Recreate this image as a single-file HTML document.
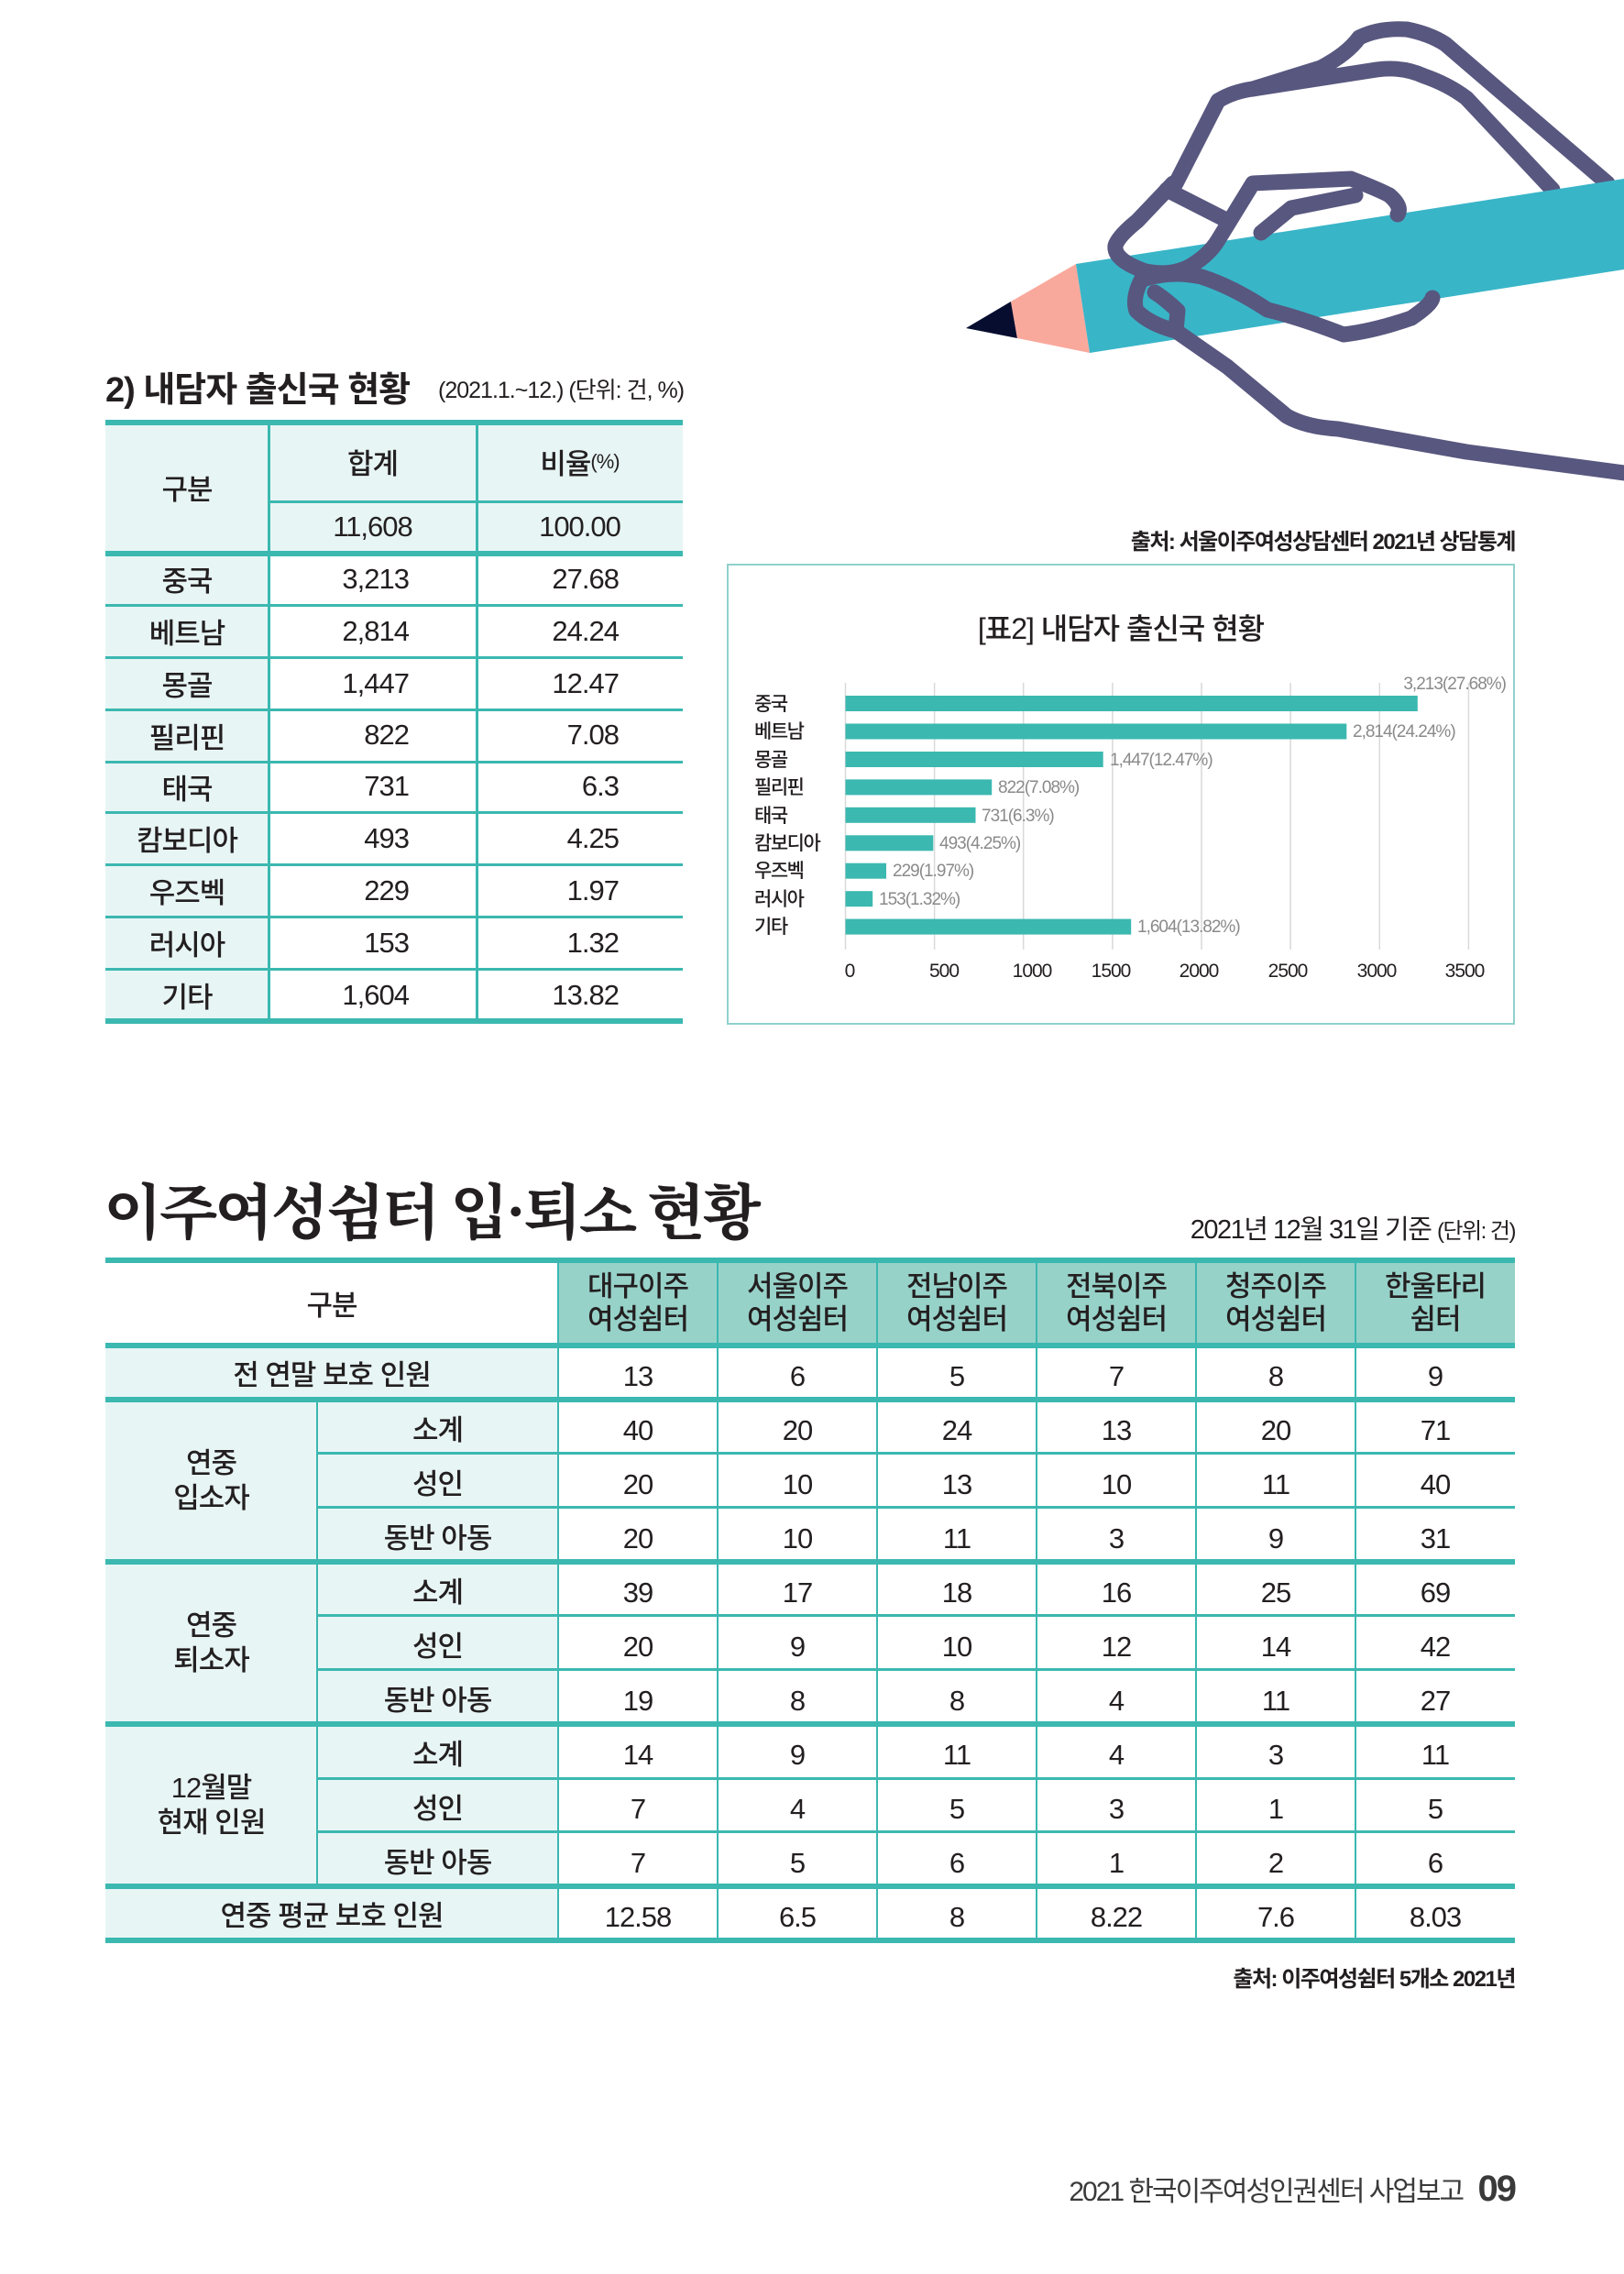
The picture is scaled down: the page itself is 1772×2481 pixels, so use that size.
<!DOCTYPE html>
<html><head><meta charset="utf-8">
<style>
*{margin:0;padding:0;box-sizing:border-box}
body{width:1772px;height:2481px;background:#fff;position:relative;overflow:hidden;font-family:"Liberation Sans","Noto Sans CJK KR",sans-serif;color:#231f20}
.a{position:absolute}
.c{position:absolute;display:flex;align-items:center;justify-content:center;text-align:center}
.hl{position:absolute;background:#3bb8b0}
.t1{font-size:31px;font-weight:500;letter-spacing:-1px}
.t2{font-size:31px;font-weight:500;letter-spacing:-1px}
</style></head><body>

<svg class="a" style="left:0;top:0" width="1772" height="2481" viewBox="0 0 1772 2481">
 <g fill="none" stroke="#58577f" stroke-width="17" stroke-linejoin="round" stroke-linecap="round">
  <path d="M1283,200 L1329,110 Q1345,100 1367,97 L1441,74 Q1470,59 1483,41 Q1505,30 1535,32 Q1560,37 1577,48 L1754,200"/>
  <path d="M1367,97 L1502,76 Q1530,72 1554,83 Q1580,92 1600,107 L1694,207"/>
  <path d="M1273,207 L1334,238"/>
 </g>
 <polygon points="1054,358 1103,329 1110,369" fill="#060d2e"/>
 <polygon points="1103,329 1174,288 1189,385 1110,369" fill="#f9a99c"/>
 <polygon points="1174,288 1772,195 1772,294 1189,385" fill="#39b5c8"/>
 <g fill="none" stroke="#58577f" stroke-width="17" stroke-linejoin="round" stroke-linecap="round">
  <path d="M1280,200 L1241,241 Q1220,258 1217,268 Q1215,284 1250,296 Q1280,302 1301,289 Q1320,277 1329,262 L1367,200 L1474,195 Q1505,207 1516,213 Q1530,225 1525,234"/>
  <path d="M1376,254 L1409,227 L1479,213"/>
  <path d="M1246,304 Q1235,325 1240,339 Q1255,354 1283,361 L1285,339 Q1270,325 1260,319"/>
  <path d="M1250,304 Q1280,295 1311,302 Q1345,313 1383,338 Q1420,347 1466,365 Q1500,361 1540,347 Q1562,332 1563,325"/>
  <path d="M1283,361 L1339,400 L1404,454 Q1425,466 1460,468 L1600,493 L1772,516"/>
 </g>
</svg>

<!-- Title 1 -->
<div class="a" style="left:115px;top:394px;font-size:38px;font-weight:700;letter-spacing:-1px">2) 내담자 출신국 현황</div>
<div class="a" style="left:478px;top:406px;font-size:25px;letter-spacing:-1px">(2021.1.~12.) (단위: 건, %)</div>

<!-- Table 1 -->
<div class="a" style="left:115px;top:460px;width:630px;height:143px;background:#e8f5f5"></div>
<div class="a" style="left:115px;top:603px;width:178px;height:511px;background:#e8f5f5"></div>
<div class="hl" style="left:115px;top:458px;width:630px;height:6px"></div>
<div class="hl" style="left:293px;top:546px;width:452px;height:3px"></div>
<div class="hl" style="left:115px;top:601px;width:630px;height:6px"></div>
<div class="hl" style="left:115px;top:659px;width:630px;height:3px"></div>
<div class="hl" style="left:115px;top:716px;width:630px;height:3px"></div>
<div class="hl" style="left:115px;top:773px;width:630px;height:3px"></div>
<div class="hl" style="left:115px;top:830px;width:630px;height:3px"></div>
<div class="hl" style="left:115px;top:885px;width:630px;height:3px"></div>
<div class="hl" style="left:115px;top:942px;width:630px;height:3px"></div>
<div class="hl" style="left:115px;top:999px;width:630px;height:3px"></div>
<div class="hl" style="left:115px;top:1056px;width:630px;height:3px"></div>
<div class="hl" style="left:115px;top:1111px;width:630px;height:6px"></div>
<div class="hl" style="left:292px;top:460px;width:3px;height:654px"></div>
<div class="hl" style="left:519px;top:460px;width:3px;height:654px"></div>

<div class="c t1" style="left:115px;top:460px;width:178px;height:143px">구분</div>
<div class="c t1" style="left:293px;top:460px;width:227px;height:87px">합계</div>
<div class="c t1" style="left:520px;top:460px;width:225px;height:87px">비율<span style="font-size:22px">(%)</span></div>
<div class="c t1" style="left:293px;top:547px;width:227px;height:56px">11,608</div>
<div class="c t1" style="left:520px;top:547px;width:225px;height:56px">100.00</div>

<div style="position:absolute;left:115px;top:603px;width:630px">
 <style>.r{display:flex;height:57px;align-items:center;font-size:31px;font-weight:500;letter-spacing:-1px}.r div:nth-child(1){width:178px;text-align:center}.r div:nth-child(2){width:227px;text-align:right;padding-right:74px}.r div:nth-child(3){width:225px;text-align:right;padding-right:70px}</style>
 <div class="r"><div>중국</div><div>3,213</div><div>27.68</div></div>
 <div class="r"><div>베트남</div><div>2,814</div><div>24.24</div></div>
 <div class="r"><div>몽골</div><div>1,447</div><div>12.47</div></div>
 <div class="r" style="height:56px"><div>필리핀</div><div>822</div><div>7.08</div></div>
 <div class="r" style="height:56px"><div>태국</div><div>731</div><div>6.3</div></div>
 <div class="r"><div>캄보디아</div><div>493</div><div>4.25</div></div>
 <div class="r"><div>우즈벡</div><div>229</div><div>1.97</div></div>
 <div class="r"><div>러시아</div><div>153</div><div>1.32</div></div>
 <div class="r"><div>기타</div><div>1,604</div><div>13.82</div></div>
</div>

<!-- Chart -->
<div class="a" style="right:119px;top:571px;font-size:24px;font-weight:700;letter-spacing:-1.5px">출처: 서울이주여성상담센터 2021년 상담통계</div>
<div class="a" style="left:793px;top:615px;width:860px;height:503px;border:2px solid #8fd1cc"></div>
<div class="c" style="left:793px;top:662px;width:860px;height:44px;font-size:32px;font-weight:500;letter-spacing:-1px">[표2] 내담자 출신국 현황</div>
<svg class="a" style="left:793px;top:615px" width="860" height="503">
 <g stroke="#d9d9d9" stroke-width="1.5">
  <line x1="129.5" y1="130" x2="129.5" y2="421"/><line x1="226.6" y1="130" x2="226.6" y2="421"/><line x1="323.7" y1="130" x2="323.7" y2="421"/><line x1="420.9" y1="130" x2="420.9" y2="421"/><line x1="518" y1="130" x2="518" y2="421"/><line x1="615.1" y1="130" x2="615.1" y2="421"/><line x1="712.3" y1="130" x2="712.3" y2="421"/><line x1="809.4" y1="130" x2="809.4" y2="421"/>
 </g>
 <g fill="#3bb8b0">
  <rect x="129.5" y="144" width="624.3" height="17"/>
  <rect x="129.5" y="174.5" width="546.8" height="17"/>
  <rect x="129.5" y="205" width="281.2" height="17"/>
  <rect x="129.5" y="235.4" width="159.7" height="17"/>
  <rect x="129.5" y="265.8" width="142" height="17"/>
  <rect x="129.5" y="296.3" width="95.8" height="17"/>
  <rect x="129.5" y="326.7" width="44.5" height="17"/>
  <rect x="129.5" y="357.2" width="29.7" height="17"/>
  <rect x="129.5" y="387.6" width="311.7" height="17"/>
 </g>
 <g font-family="Liberation Sans, Noto Sans CJK KR, sans-serif" font-size="21" fill="#231f20" font-weight="500" letter-spacing="-1.5">
  <text x="30" y="160">중국</text><text x="30" y="190">베트남</text><text x="30" y="221">몽골</text><text x="30" y="251">필리핀</text><text x="30" y="282">태국</text><text x="30" y="312">캄보디아</text><text x="30" y="342">우즈벡</text><text x="30" y="373">러시아</text><text x="30" y="403">기타</text>
 </g>
 <g font-family="Liberation Sans, Noto Sans CJK KR, sans-serif" font-size="19" fill="#8a8a8a" letter-spacing="-1">
  <text x="850" y="137" text-anchor="end">3,213(27.68%)</text>
  <text x="683" y="189">2,814(24.24%)</text>
  <text x="418" y="220">1,447(12.47%)</text>
  <text x="296" y="250">822(7.08%)</text>
  <text x="278" y="281">731(6.3%)</text>
  <text x="232" y="311">493(4.25%)</text>
  <text x="181" y="341">229(1.97%)</text>
  <text x="166" y="372">153(1.32%)</text>
  <text x="448" y="402">1,604(13.82%)</text>
 </g>
 <g font-family="Liberation Sans, sans-serif" font-size="21" fill="#231f20" text-anchor="middle" letter-spacing="-1">
  <text x="134" y="451">0</text><text x="237" y="451">500</text><text x="333" y="451">1000</text><text x="419" y="451">1500</text><text x="515" y="451">2000</text><text x="612" y="451">2500</text><text x="709" y="451">3000</text><text x="805" y="451">3500</text>
 </g>
</svg>

<!-- Section 2 -->
<div class="a" style="left:113px;top:1270px;font-size:66px;font-weight:700;letter-spacing:-3px;font-family:'Noto Serif CJK SC','Noto Sans CJK KR',serif">이주여성쉼터 입·퇴소 현황</div>
<div class="a" style="right:119px;top:1318px;font-size:29px;letter-spacing:-1.5px">2021년 12월 31일 기준 <span style="font-size:24px">(단위: 건)</span></div>

<div class="a" style="left:609px;top:1375px;width:1044px;height:93px;background:#97d2c9"></div>
<div class="a" style="left:115px;top:1468px;width:494px;height:649px;background:#e8f5f5"></div>
<div class="hl" style="left:115px;top:1372px;width:1538px;height:6px"></div>
<div class="hl" style="left:115px;top:1465px;width:1538px;height:6px"></div>
<div class="hl" style="left:115px;top:1524px;width:1538px;height:6px"></div>
<div class="hl" style="left:346px;top:1584px;width:1307px;height:3px"></div>
<div class="hl" style="left:346px;top:1643px;width:1307px;height:3px"></div>
<div class="hl" style="left:115px;top:1701px;width:1538px;height:6px"></div>
<div class="hl" style="left:346px;top:1761px;width:1307px;height:3px"></div>
<div class="hl" style="left:346px;top:1820px;width:1307px;height:3px"></div>
<div class="hl" style="left:115px;top:1878px;width:1538px;height:6px"></div>
<div class="hl" style="left:346px;top:1939px;width:1307px;height:3px"></div>
<div class="hl" style="left:346px;top:1997px;width:1307px;height:3px"></div>
<div class="hl" style="left:115px;top:2055px;width:1538px;height:6px"></div>
<div class="hl" style="left:115px;top:2114px;width:1538px;height:6px"></div>
<div class="hl" style="left:345px;top:1527px;width:2px;height:531px"></div>
<div class="hl" style="left:608px;top:1375px;width:2px;height:742px"></div>
<div class="hl" style="left:782px;top:1375px;width:2px;height:742px"></div>
<div class="hl" style="left:956px;top:1375px;width:2px;height:742px"></div>
<div class="hl" style="left:1130px;top:1375px;width:2px;height:742px"></div>
<div class="hl" style="left:1304px;top:1375px;width:2px;height:742px"></div>
<div class="hl" style="left:1478px;top:1375px;width:2px;height:742px"></div>

<div class="c t2" style="left:115px;top:1375px;width:494px;height:93px">구분</div>
<div class="c t2" style="left:609px;top:1375px;width:174px;height:93px;line-height:36px">대구이주<br>여성쉼터</div>
<div class="c t2" style="left:783px;top:1375px;width:174px;height:93px;line-height:36px">서울이주<br>여성쉼터</div>
<div class="c t2" style="left:957px;top:1375px;width:174px;height:93px;line-height:36px">전남이주<br>여성쉼터</div>
<div class="c t2" style="left:1131px;top:1375px;width:174px;height:93px;line-height:36px">전북이주<br>여성쉼터</div>
<div class="c t2" style="left:1305px;top:1375px;width:174px;height:93px;line-height:36px">청주이주<br>여성쉼터</div>
<div class="c t2" style="left:1479px;top:1375px;width:174px;height:93px;line-height:36px">한울타리<br>쉼터</div>

<div class="c t2" style="left:115px;top:1468px;width:494px;height:59px">전 연말 보호 인원</div>
<div class="c t2" style="left:115px;top:1527px;width:231px;height:177px;line-height:38px">연중<br>입소자</div>
<div class="c t2" style="left:115px;top:1704px;width:231px;height:177px;line-height:38px">연중<br>퇴소자</div>
<div class="c t2" style="left:115px;top:1881px;width:231px;height:177px;line-height:38px">12월말<br>현재 인원</div>
<div class="c t2" style="left:115px;top:2058px;width:494px;height:59px">연중 평균 보호 인원</div>

<div class="a" style="left:346px;top:1527px;width:263px">
 <style>.s{height:59px;display:flex;align-items:flex-start;justify-content:center;padding-top:8px;font-size:31px;font-weight:500;letter-spacing:-1px}</style>
 <div class="s">소계</div><div class="s">성인</div><div class="s">동반 아동</div>
 <div class="s">소계</div><div class="s">성인</div><div class="s">동반 아동</div>
 <div class="s">소계</div><div class="s">성인</div><div class="s">동반 아동</div>
</div>

<div class="a" style="left:609px;top:1468px;width:1044px">
 <style>.d{display:flex;height:59px;font-size:31px;font-weight:500;letter-spacing:-1px}.d div{width:174px;display:flex;align-items:center;justify-content:center;padding-top:8px}</style>
 <div class="d"><div>13</div><div>6</div><div>5</div><div>7</div><div>8</div><div>9</div></div>
 <div class="d"><div>40</div><div>20</div><div>24</div><div>13</div><div>20</div><div>71</div></div>
 <div class="d"><div>20</div><div>10</div><div>13</div><div>10</div><div>11</div><div>40</div></div>
 <div class="d"><div>20</div><div>10</div><div>11</div><div>3</div><div>9</div><div>31</div></div>
 <div class="d"><div>39</div><div>17</div><div>18</div><div>16</div><div>25</div><div>69</div></div>
 <div class="d"><div>20</div><div>9</div><div>10</div><div>12</div><div>14</div><div>42</div></div>
 <div class="d"><div>19</div><div>8</div><div>8</div><div>4</div><div>11</div><div>27</div></div>
 <div class="d"><div>14</div><div>9</div><div>11</div><div>4</div><div>3</div><div>11</div></div>
 <div class="d"><div>7</div><div>4</div><div>5</div><div>3</div><div>1</div><div>5</div></div>
 <div class="d"><div>7</div><div>5</div><div>6</div><div>1</div><div>2</div><div>6</div></div>
 <div class="d"><div>12.58</div><div>6.5</div><div>8</div><div>8.22</div><div>7.6</div><div>8.03</div></div>
</div>

<div class="a" style="right:119px;top:2139px;font-size:24px;font-weight:700;letter-spacing:-1.5px">출처: 이주여성쉼터 5개소 2021년</div>

<div class="a" style="right:119px;top:2366px;font-size:30px;letter-spacing:-2px;color:#3a3a3a;white-space:nowrap">2021 한국이주여성인권센터 사업보고 <span style="font-size:40px;font-weight:700;margin-left:10px">09</span></div>
</body></html>
